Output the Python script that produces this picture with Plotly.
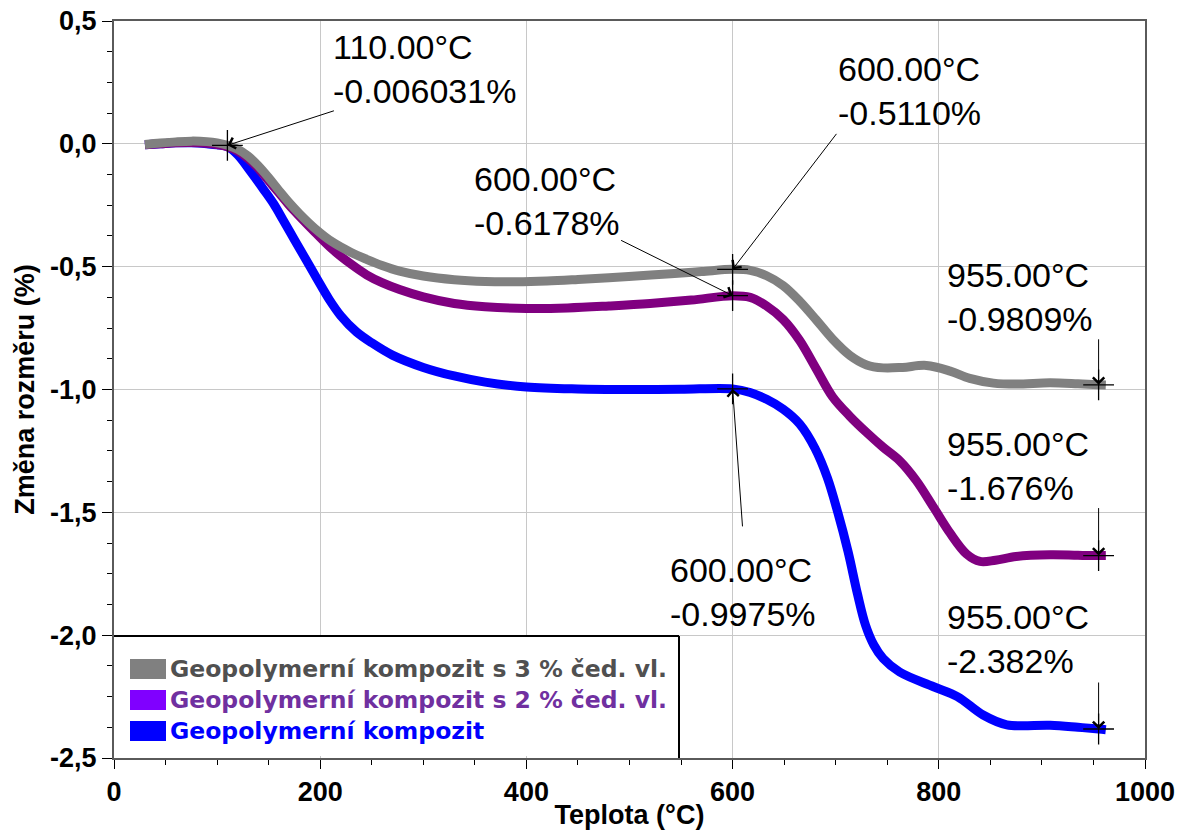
import plotly.graph_objects as go

# ---------------- data ----------------
series_names = [
    "Geopolymerní kompozit s 3 % čed. vl.",
    "Geopolymerní kompozit s 2 % čed. vl.",
    "Geopolymerní kompozit",
]

gray_T = [30, 45, 60, 75, 90, 100, 110, 120, 130, 140, 150, 160, 170, 180, 195, 212, 230, 245, 260, 277,
          300, 330, 360, 390, 420, 450, 480, 510, 540, 570, 600, 617, 633, 649, 665, 681, 697, 714, 730,
          746, 765, 788, 811, 830, 853, 875, 908, 935, 955, 962]
gray_Y = [-0.003, 0.003, 0.008, 0.011, 0.009, 0.004, -0.006, -0.022, -0.05, -0.09, -0.138, -0.19, -0.24,
          -0.285, -0.345, -0.40, -0.442, -0.47, -0.495, -0.518, -0.538, -0.553, -0.56, -0.561, -0.558, -0.552,
          -0.545, -0.537, -0.529, -0.52, -0.511, -0.515, -0.537, -0.577, -0.64, -0.716, -0.795, -0.862,
          -0.9, -0.912, -0.91, -0.902, -0.925, -0.955, -0.974, -0.978, -0.973, -0.977, -0.981, -0.982]

purple_T = [30, 45, 60, 75, 90, 100, 110, 120, 130, 140, 150, 160, 170, 180, 195, 212, 230, 245, 260, 277,
            300, 330, 360, 400, 440, 480, 520, 560, 600, 617, 633, 649, 665, 681, 697, 714, 730, 746, 762,
            778, 795, 811, 827, 840, 855, 875, 908, 935, 955, 962]
purple_Y = [-0.004, 0.0, 0.004, 0.005, 0.002, -0.003, -0.012, -0.03, -0.06, -0.10, -0.15, -0.2, -0.25,
            -0.295, -0.36, -0.43, -0.49, -0.533, -0.565, -0.593, -0.623, -0.65, -0.663, -0.67, -0.668,
            -0.66, -0.65, -0.636, -0.618, -0.625, -0.66, -0.715, -0.80, -0.915, -1.03, -1.11, -1.175, -1.235,
            -1.29, -1.37, -1.48, -1.585, -1.67, -1.70, -1.695, -1.68, -1.673, -1.675, -1.676, -1.676]

blue_T = [30, 45, 60, 75, 90, 100, 110, 120, 132, 145, 155, 164, 175, 186, 197, 209, 220, 235, 250, 270,
          300, 330, 360, 400, 450, 500, 550, 600, 617, 633, 649, 665, 680, 692, 702, 712, 721, 729, 737,
          746, 762, 795, 818, 843, 866, 908, 935, 955, 962]
blue_Y = [-0.004, 0.0, 0.004, 0.004, 0.0, -0.004, -0.012, -0.045, -0.11, -0.185, -0.245, -0.31, -0.39, -0.47,
          -0.55, -0.635, -0.70, -0.765, -0.81, -0.86, -0.91, -0.945, -0.97, -0.99, -0.998, -1.0, -0.999,
          -0.9975, -1.012, -1.04, -1.08, -1.14, -1.24, -1.36, -1.5, -1.66, -1.83, -1.96, -2.04, -2.095,
          -2.15, -2.21, -2.25, -2.325, -2.365, -2.367, -2.375, -2.382, -2.385]

mark_T = [110, 600, 600, 600, 955, 955, 955]
mark_Y = [-0.006031, -0.5110, -0.6178, -0.9975, -0.9809, -1.676, -2.382]
mark_text = ["110.00°C<br>-0.006031%", "600.00°C<br>-0.5110%", "600.00°C<br>-0.6178%",
             "600.00°C<br>-0.9975%", "955.00°C<br>-0.9809%", "955.00°C<br>-1.676%", "955.00°C<br>-2.382%"]
# text block positions (left edge, middle) in data units
text_T = [210, 700, 347, 537, 806, 806, 806]
text_Y = [0.303, 0.215, -0.232, -1.823, -0.623, -1.311, -2.015]
# arrow tail offsets in pixels relative to the marked point
arrow_ax = [108, 105, -113, 10, 0, 0, 0]
arrow_ay = [-35, -137, -56, 139, -47, -49, -48]

x_ticks = [0, 200, 400, 600, 800, 1000]
x_ticktext = ["0", "200", "400", "600", "800", "1000"]
y_ticks = [0.5, 0.0, -0.5, -1.0, -1.5, -2.0, -2.5]
y_ticktext = ["0,5", "0,0", "-0,5", "-1,0", "-1,5", "-2,0", "-2,5"]

line_colors = ["#808080", "#800080", "#0000FF"]
swatch_colors = ["#808080", "#8000FF", "#0000FF"]
legend_text_colors = ["#505050", "#7030A0", "#0000FF"]

# ---------------- figure ----------------
fig = go.Figure()
series = [(gray_T, gray_Y), (purple_T, purple_Y), (blue_T, blue_Y)]
for i in [2, 1, 0]:
    T, Y = series[i]
    fig.add_trace(go.Scatter(x=T, y=Y, mode="lines", name=series_names[i],
                             line=dict(color=line_colors[i], width=9, shape="spline", smoothing=1.0),
                             showlegend=False, hoverinfo="skip"))

fig.add_trace(go.Scatter(x=mark_T, y=mark_Y, mode="markers", showlegend=False, hoverinfo="skip",
                         marker=dict(symbol="cross-thin", size=22, line=dict(color="black", width=1.3))))

ann_font = dict(family="Liberation Sans, Arial", size=34, color="black")
for i in range(len(mark_T)):
    fig.add_annotation(x=mark_T[i], y=mark_Y[i], xref="x", yref="y", text="", showarrow=True,
                       ax=arrow_ax[i], ay=arrow_ay[i], axref="pixel", ayref="pixel",
                       arrowhead=4, arrowsize=2.2, arrowwidth=1, arrowcolor="black", standoff=0)
    fig.add_annotation(x=text_T[i], y=text_Y[i], xref="x", yref="y", text=mark_text[i],
                       showarrow=False, xanchor="left", yanchor="middle", align="left", font=ann_font)

# manual legend box
pw, ph = 1031.0, 737.0
shapes = [dict(type="rect", xref="paper", yref="paper", x0=2 / pw, x1=565 / pw, y0=2 / ph, y1=122 / ph,
               fillcolor="white", line=dict(width=0), layer="above"),
          dict(type="line", xref="paper", yref="paper", x0=0, x1=565 / pw, y0=122 / ph, y1=122 / ph,
               line=dict(color="black", width=2), layer="above"),
          dict(type="line", xref="paper", yref="paper", x0=565 / pw, x1=565 / pw, y0=0, y1=122 / ph,
               line=dict(color="black", width=2), layer="above")]
row_centers = [89, 58, 27]
for i in range(3):
    yc = row_centers[i]
    shapes.append(dict(type="rect", xref="paper", yref="paper", x0=16 / pw, x1=52 / pw,
                       y0=(yc - 10) / ph, y1=(yc + 10) / ph, fillcolor=swatch_colors[i],
                       line=dict(width=0), layer="above"))
    fig.add_annotation(x=54 / pw, y=yc / ph, xref="paper", yref="paper", text="<b>%s</b>" % series_names[i],
                       showarrow=False, xanchor="left", yanchor="middle",
                       font=dict(family="DejaVu Sans", size=23.5, color=legend_text_colors[i]))

axis_common = dict(showgrid=True, gridcolor="#c8c8c8", gridwidth=1, showline=True, linecolor="#5a5a5a",
                   linewidth=2, mirror=True, ticks="outside", tickcolor="black", tickwidth=1.3,
                   zeroline=False, automargin=False,
                   tickfont=dict(family="Liberation Sans, Arial", size=27, color="black"),
                   title_font=dict(family="Liberation Sans, Arial", size=27, color="black"))

fig.update_xaxes(range=[0, 1000], tickvals=x_ticks, ticktext=["<b>%s</b>" % t for t in x_ticktext],
                 ticklen=9,
                 minor=dict(dtick=50, ticks="outside", ticklen=5, tickcolor="black", showgrid=False),
                 title_text="<b>Teplota (°C)</b>", title_standoff=2, **axis_common)
fig.update_yaxes(range=[-2.5, 0.5], tickvals=y_ticks, ticktext=["<b>%s</b>" % t for t in y_ticktext],
                 ticklen=10,
                 minor=dict(dtick=0.125, tick0=0, ticks="outside", ticklen=5, tickcolor="black", showgrid=False),
                 title_text="<b>Změna rozměru (%)</b>", title_standoff=8, **axis_common)

fig.update_layout(width=1179, height=830, margin=dict(l=114, r=34, t=21, b=72),
                  plot_bgcolor="white", paper_bgcolor="white", shapes=shapes, showlegend=False)

fig.write_html("out.html")
